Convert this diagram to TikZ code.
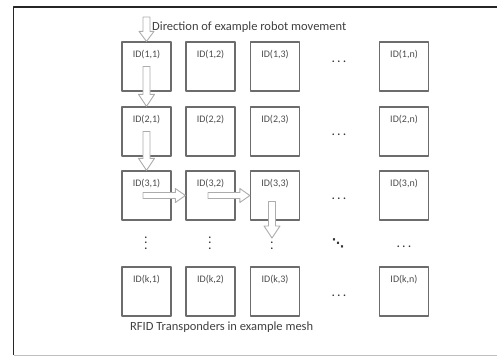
\documentclass[tikz,border=0pt]{standalone}
\usepackage{fontspec}
\setmainfont{Carlito}
\newfontfamily\dotfont{DejaVu Sans}
\usetikzlibrary{calc}
\tikzset{move/.style n args={3}{draw=gray!65, fill=white, line width=0.9pt, to path={
  ($(\tikztostart)!#1!90:(\tikztotarget)$)
  -- ($(\tikztotarget)!#3!(\tikztostart)!#1!-90:(\tikztostart)$)
  -- ($(\tikztotarget)!#3!(\tikztostart)!#2!-90:(\tikztostart)$)
  -- (\tikztotarget)
  -- ($(\tikztotarget)!#3!(\tikztostart)!#2!90:(\tikztostart)$)
  -- ($(\tikztotarget)!#3!(\tikztostart)!#1!90:(\tikztostart)$)
  -- ($(\tikztostart)!#1!-90:(\tikztotarget)$) -- cycle}}}
\begin{document}
\begin{tikzpicture}[x=1pt, y=-1pt, line join=round]
\tikzstyle{tag} = [draw=gray!85!black, line width=1.3pt, minimum size=49pt, inner sep=0pt]
\tikzstyle{idtext} = [text=black!70, inner sep=0pt, font=\fontsize{10}{12}\selectfont]
\tikzstyle{dots} = [text=black!80, inner sep=0pt, font=\fontsize{11}{13}\selectfont\boldmath]
\tikzstyle{caption} = [text=black!75, inner sep=0pt, font=\fontsize{12.5}{15}\selectfont]
  \useasboundingbox (0,0) rectangle (497,360);
  % frame
  \draw[line width=1.8pt, black!85] (497,7) -- (13.5,7) -- (13.5,355);
  \draw[line width=0.8pt, gray!50] (13.5,355) -- (497,355);
  % mesh of transponders
  \foreach \r/\y in {1/66.5,2/131.5,3/195.5,k/291.5}{
    \foreach \c/\x in {1/146.5,2/210.5,3/275,n/404}{
      \node[tag] (b\r\c) at (\x,\y) {};
      \node[idtext] (t\r\c) at ($(b\r\c.north)+(0,13)$) {ID(\r,\c)};
    }
  }
  \node[dots] (h1) at (339,62) {$\cdots$};
  \node[dots] (h2) at (339,135) {$\cdots$};
  \node[dots] (h3) at (339,199) {$\cdots$};
  \node[dots] (hk) at (339,296) {$\cdots$};
  \node[dots] (hn) at (404,247) {$\cdots$};
  \node[dots, rotate=90] (v1) at (146,243) {$\cdots$};
  \node[dots, rotate=90] (v2) at (210,243) {$\cdots$};
  \node[dots, rotate=90] (v3) at (272,243) {$\cdots$};
  \node[dots, font=\fontsize{12}{14}\dotfont\bfseries] (dd) at (338,243) {⋱};
  \node[caption, anchor=west] (title) at (152,27) {Direction of example robot movement};
  \node[caption, anchor=west] (mesh) at (130,327) {RFID Transponders in example mesh};
  % robot path
  \coordinate (go0) at (146.5,17);
  \coordinate (go3) at ($(b31.center)+(-3.5,0)$);
  \coordinate (go4) at ($(b32.center)+(-2.5,0)$);
  \coordinate (go5) at ($(b33.center)+(-3,6)$);
  \coordinate (end5) at (272,238);
  \draw[move={3.5pt}{7.5pt}{10pt}] (go0) to (b11.north);
  \draw[move={3.5pt}{8pt}{12pt}] (b11.center) to (b21.north);
  \draw[move={3.5pt}{8pt}{12pt}] (b21.center) to (b31.north);
  \draw[move={3pt}{7pt}{10pt}] (go3) to (b32.west);
  \draw[move={3pt}{7pt}{10pt}] (go4) to (b33.west);
  \draw[move={3.5pt}{8pt}{12pt}] (go5) to (end5);
\end{tikzpicture}
\end{document}
